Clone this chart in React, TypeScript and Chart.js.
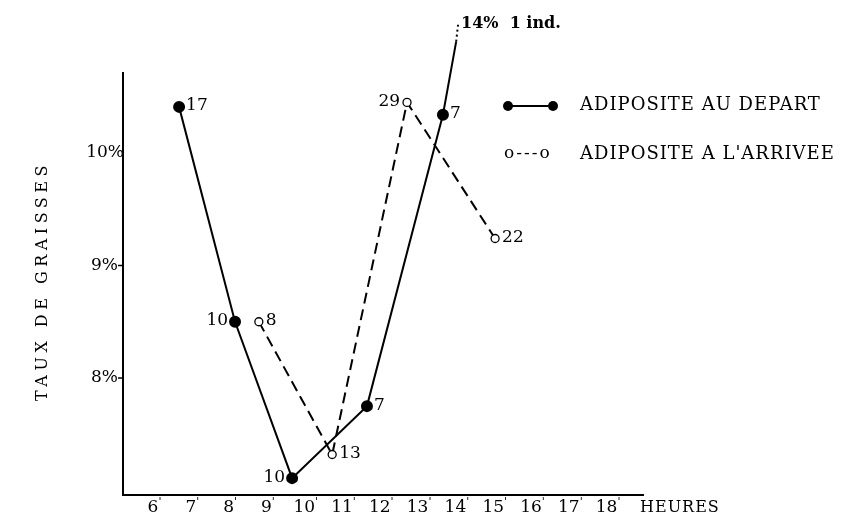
import { useEffect, useRef } from 'react';
import { Chart, registerables } from 'chart.js';
Chart.register(...registerables);

// ---- data ----
const hourTicks = [6, 7, 8, 9, 10, 11, 12, 13, 14, 15, 16, 17, 18];
const hourTickLabels = ['6', '7', '8', '9', '10', '11', '12', '13', '14', '15', '16', '17', '18'];
const yTicks = [8, 9, 10];
const yTickLabels = ['8%', '9%', '10%'];

const departHours = [6.69, 8.17, 9.68, 11.66, 13.67, 14.02];
const departValues = [10.41, 8.5, 7.11, 7.75, 10.34, 10.99];
const departCounts = ['17', '10', '10', '7', '7', ''];
const departLabelSide = ['right', 'left', 'left', 'right', 'right', 'none'];

const offScaleHours = [14.02, 14.07];
const offScaleValues = [10.99, 11.14];
const offScaleLabel = '14%  1 ind.';

const arriveeHours = [8.8, 10.74, 12.72, 15.05];
const arriveeValues = [8.5, 7.32, 10.45, 9.24];
const arriveeCounts = ['8', '13', '29', '22'];
const arriveeLabelSide = ['right', 'right', 'left', 'right'];

const legendDepart = 'ADIPOSITE AU DEPART';
const legendArrivee = "ADIPOSITE A L'ARRIVEE";
const yTitle = 'TAUX DE GRAISSES';
const xTitle = 'HEURES';

const SERIF = '"DejaVu Serif", "Liberation Serif", serif';

const zip = (xs: number[], ys: number[]) => xs.map((x, i) => ({ x, y: ys[i] }));

const annotations = {
  id: 'annotations',
  afterDraw(chart: any) {
    const { ctx, chartArea, scales } = chart;
    const { left, right, top, bottom } = chartArea;
    ctx.save();
    ctx.strokeStyle = '#000';
    ctx.fillStyle = '#000';
    ctx.lineWidth = 2;
    // axes
    ctx.beginPath();
    ctx.moveTo(left, top);
    ctx.lineTo(left, bottom);
    ctx.lineTo(right, bottom);
    ctx.stroke();

    // y ticks
    ctx.font = `17px ${SERIF}`;
    ctx.textAlign = 'right';
    ctx.textBaseline = 'middle';
    yTicks.forEach((v, i) => {
      const y = scales.y.getPixelForValue(v);
      if (i < yTicks.length - 1) {
        ctx.lineWidth = 1.5;
        ctx.beginPath();
        ctx.moveTo(left - 5, y);
        ctx.lineTo(left, y);
        ctx.stroke();
      }
      ctx.fillText(yTickLabels[i], left - (i === yTicks.length - 1 ? -1 : 5), y);
    });

    // x ticks
    hourTicks.forEach((h, i) => {
      const x = scales.x.getPixelForValue(h);
      ctx.font = `17px ${SERIF}`;
      ctx.textAlign = 'center';
      ctx.textBaseline = 'middle';
      ctx.fillText(hourTickLabels[i], x, bottom + 13);
      const w = ctx.measureText(hourTickLabels[i]).width;
      ctx.font = `11px ${SERIF}`;
      ctx.textAlign = 'left';
      ctx.fillText("'", x + w / 2, bottom + 7);
    });

    // x title
    ctx.font = `16px ${SERIF}`;
    (ctx as any).letterSpacing = '1px';
    ctx.textAlign = 'left';
    ctx.textBaseline = 'middle';
    ctx.fillText(xTitle, 640, bottom + 13);

    // y title
    ctx.save();
    ctx.translate(43, 281);
    ctx.rotate(-Math.PI / 2);
    ctx.font = `16px ${SERIF}`;
    (ctx as any).letterSpacing = '4.5px';
    ctx.textAlign = 'center';
    ctx.fillText(yTitle, 0, 0);
    ctx.restore();
    (ctx as any).letterSpacing = '0px';

    // point labels
    const drawLabels = (dsIndex: number, labels: string[], sides: string[]) => {
      const meta = chart.getDatasetMeta(dsIndex);
      meta.data.forEach((pt: any, j: number) => {
        const side = sides[j];
        if (side === 'none' || !labels[j]) return;
        ctx.font = `17px ${SERIF}`;
        ctx.textBaseline = 'middle';
        ctx.textAlign = side === 'left' ? 'right' : 'left';
        const dx = side === 'left' ? -7 : 7;
        ctx.fillText(labels[j], pt.x + dx, pt.y - 1);
      });
    };
    drawLabels(0, departCounts, departLabelSide);
    drawLabels(2, arriveeCounts, arriveeLabelSide);

    // off-scale label
    const offMeta = chart.getDatasetMeta(1);
    const last = offMeta.data[offMeta.data.length - 1];
    ctx.font = `bold 16px ${SERIF}`;
    ctx.textAlign = 'left';
    ctx.textBaseline = 'middle';
    ctx.fillText(offScaleLabel, last.x + 3, last.y - 1);

    // legend
    ctx.lineWidth = 2;
    ctx.setLineDash([]);
    ctx.beginPath();
    ctx.moveTo(508, 106);
    ctx.lineTo(553, 106);
    ctx.stroke();
    [508, 553].forEach((x) => {
      ctx.beginPath();
      ctx.arc(x, 106, 5, 0, Math.PI * 2);
      ctx.fill();
    });
    ctx.font = `18px ${SERIF}`;
    ctx.textAlign = 'left';
    ctx.textBaseline = 'middle';
    (ctx as any).letterSpacing = '1px';
    ctx.fillText(legendDepart, 580, 105);
    ctx.fillText(legendArrivee, 580, 154);
    (ctx as any).letterSpacing = '2px';
    ctx.font = `17px ${SERIF}`;
    ctx.fillText('o---o', 504, 154);
    (ctx as any).letterSpacing = '0px';

    ctx.restore();
  },
};

export default function App() {
  const ref = useRef<HTMLCanvasElement>(null);
  useEffect(() => {
    document.body.style.margin = '0';
    const chart = new Chart(ref.current!, {
      type: 'scatter',
      data: {
        datasets: [
          {
            label: legendDepart,
            data: zip(departHours, departValues),
            showLine: true,
            borderColor: '#000',
            borderWidth: 2,
            backgroundColor: '#000',
            pointBackgroundColor: '#000',
            pointBorderColor: '#000',
            pointRadius: departHours.map((_, i) => (i === departHours.length - 1 ? 0 : 5)),
            clip: false as any,
          },
          {
            label: 'off-scale',
            data: zip(offScaleHours, offScaleValues),
            showLine: true,
            borderColor: '#000',
            borderWidth: 2,
            borderDash: [2, 3],
            pointRadius: 0,
            clip: false as any,
          },
          {
            label: legendArrivee,
            data: zip(arriveeHours, arriveeValues),
            showLine: true,
            borderColor: '#000',
            borderWidth: 2,
            borderDash: [11, 6],
            pointBackgroundColor: '#fff',
            pointBorderColor: '#000',
            pointBorderWidth: 1.3,
            pointRadius: 4,
            clip: false as any,
          },
        ],
      },
      options: {
        responsive: false,
        animation: false,
        layout: { padding: { left: 123, top: 72, right: 197, bottom: 24 } },
        plugins: { legend: { display: false }, tooltip: { enabled: false }, title: { display: false } },
        scales: {
          x: { type: 'linear', min: 5.2063, max: 18.989, display: false },
          y: { type: 'linear', min: 6.96, max: 10.72, display: false },
        },
      },
      plugins: [annotations],
    });
    return () => chart.destroy();
  }, []);
  return (
    <div style={{ width: 841, height: 519, background: '#fff' }}>
      <canvas ref={ref} width={841} height={519} />
    </div>
  );
}
